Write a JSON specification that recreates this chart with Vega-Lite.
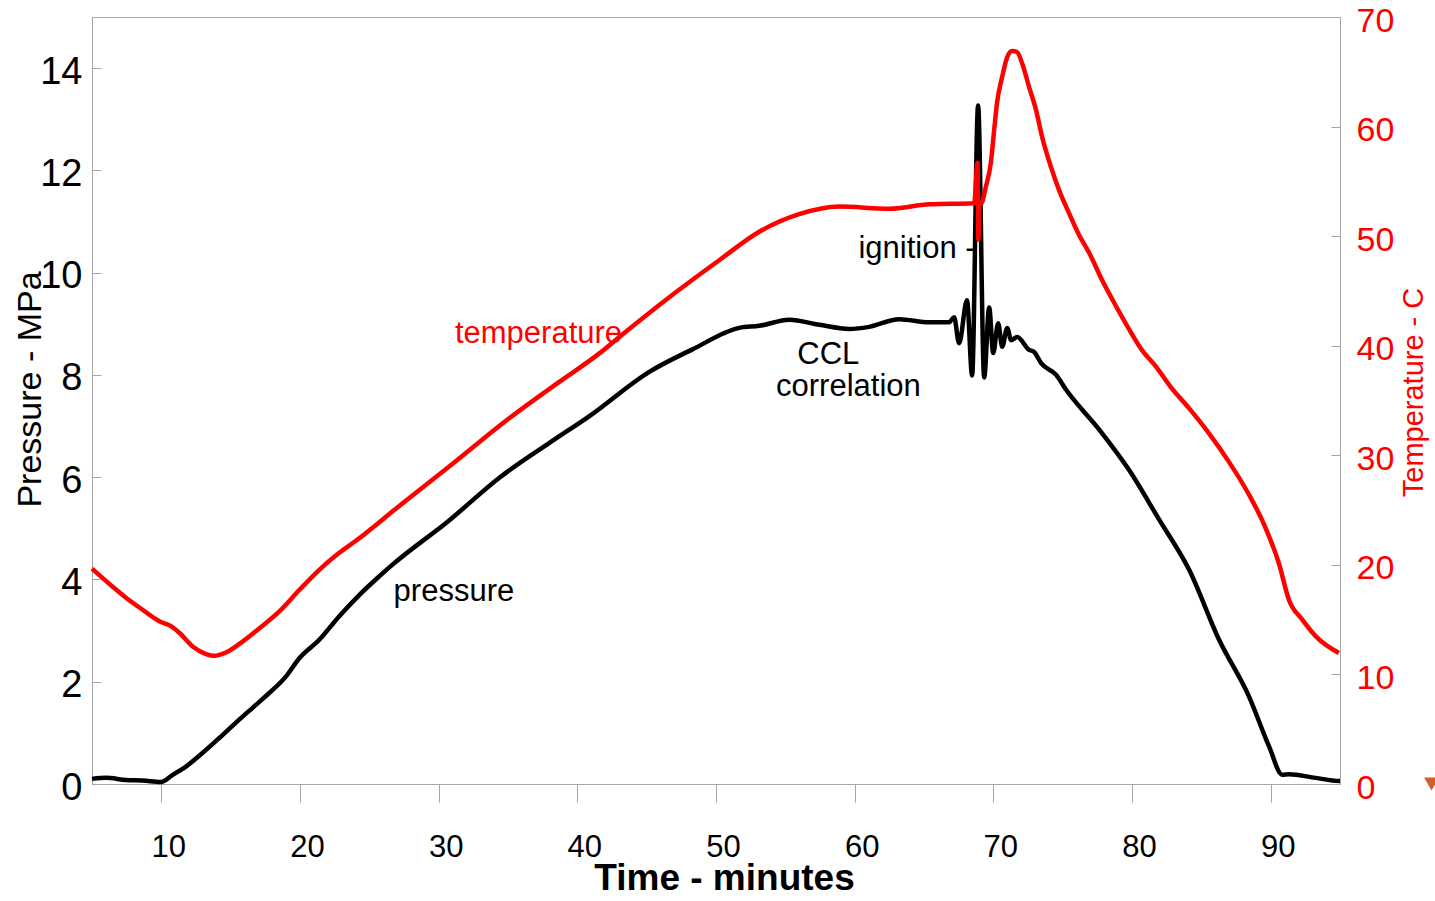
{
  "$schema": "https://vega.github.io/schema/vega-lite/v6.json",
  "width": 1248,
  "height": 767,
  "autosize": {"type": "none"},
  "padding": {"left": 92, "top": 17, "right": 95, "bottom": 117},
  "background": "white",
  "config": {
    "font": "Liberation Sans",
    "view": {"stroke": "#a6a6a6", "strokeWidth": 1},
    "axis": {
      "grid": false,
      "domainColor": "#a6a6a6",
      "tickColor": "#a6a6a6",
      "labelFont": "Liberation Sans",
      "titleFont": "Liberation Sans"
    }
  },
  "datasets": {
    "pressure": [
      {"t": 5.0, "p": 0.10}, {"t": 6.0, "p": 0.12}, {"t": 7.45, "p": 0.08}, {"t": 8.65, "p": 0.07},
      {"t": 9.97, "p": 0.04}, {"t": 10.82, "p": 0.18}, {"t": 11.77, "p": 0.34}, {"t": 12.98, "p": 0.61},
      {"t": 14.18, "p": 0.90}, {"t": 15.38, "p": 1.20}, {"t": 16.58, "p": 1.49}, {"t": 17.79, "p": 1.78},
      {"t": 18.98, "p": 2.10}, {"t": 19.95, "p": 2.46}, {"t": 21.39, "p": 2.82}, {"t": 22.83, "p": 3.28},
      {"t": 24.29, "p": 3.70}, {"t": 25.71, "p": 4.06}, {"t": 26.67, "p": 4.29}, {"t": 30.78, "p": 5.16},
      {"t": 34.38, "p": 5.99}, {"t": 37.99, "p": 6.67}, {"t": 40.9, "p": 7.2}, {"t": 45.19, "p": 8.06},
      {"t": 48.30, "p": 8.50}, {"t": 51.68, "p": 8.92}, {"t": 53.12, "p": 8.96}, {"t": 55.29, "p": 9.08},
      {"t": 57.45, "p": 8.98}, {"t": 59.61, "p": 8.90}, {"t": 61.05, "p": 8.94}, {"t": 63.21, "p": 9.09},
      {"t": 65.38, "p": 9.03}, {"t": 66.81, "p": 9.03}, {"t": 67.17, "p": 9.13}, {"t": 67.53, "p": 8.62},
      {"t": 68.10, "p": 9.46}, {"t": 68.47, "p": 7.99}, {"t": 68.90, "p": 13.27}, {"t": 69.34, "p": 7.95},
      {"t": 69.70, "p": 9.32}, {"t": 69.99, "p": 8.43}, {"t": 70.35, "p": 9.01}, {"t": 70.64, "p": 8.55},
      {"t": 71.00, "p": 8.92}, {"t": 71.28, "p": 8.68}, {"t": 71.72, "p": 8.74}, {"t": 72.58, "p": 8.49},
      {"t": 72.94, "p": 8.45}, {"t": 73.45, "p": 8.23}, {"t": 74.53, "p": 8.00}, {"t": 75.25, "p": 7.71},
      {"t": 77.64, "p": 6.93}, {"t": 79.79, "p": 6.14}, {"t": 81.96, "p": 5.17}, {"t": 84.12, "p": 4.19},
      {"t": 86.28, "p": 2.82}, {"t": 88.44, "p": 1.71}, {"t": 89.89, "p": 0.73}, {"t": 90.84, "p": 0.18},
      {"t": 91.32, "p": 0.19}, {"t": 93.24, "p": 0.12}, {"t": 94.92, "p": 0.06}, {"t": 95.0, "p": 0.06}
    ],
    "temperature": [
      {"t": 5.0, "c": 19.65}, {"t": 6.49, "c": 18.0}, {"t": 7.45, "c": 17.0}, {"t": 8.65, "c": 15.9},
      {"t": 9.86, "c": 14.85}, {"t": 10.69, "c": 14.4}, {"t": 11.30, "c": 13.8}, {"t": 12.26, "c": 12.55},
      {"t": 13.22, "c": 11.86}, {"t": 13.82, "c": 11.7}, {"t": 14.66, "c": 12.0}, {"t": 15.86, "c": 13.0},
      {"t": 17.06, "c": 14.2}, {"t": 18.51, "c": 15.75}, {"t": 19.95, "c": 17.7}, {"t": 21.39, "c": 19.55},
      {"t": 22.83, "c": 21.1}, {"t": 24.03, "c": 22.2}, {"t": 27.18, "c": 25.4}, {"t": 30.78, "c": 29.0},
      {"t": 35.11, "c": 33.4}, {"t": 38.7, "c": 36.7}, {"t": 41.59, "c": 39.3}, {"t": 43.03, "c": 40.8},
      {"t": 46.4, "c": 44.2}, {"t": 50.23, "c": 47.8}, {"t": 53.12, "c": 50.4}, {"t": 56.0, "c": 52.0},
      {"t": 58.89, "c": 52.7}, {"t": 62.49, "c": 52.5}, {"t": 65.38, "c": 52.9}, {"t": 68.62, "c": 53.0},
      {"t": 68.86, "c": 56.7}, {"t": 68.92, "c": 49.7}, {"t": 68.98, "c": 53.0}, {"t": 69.12, "c": 53.0},
      {"t": 69.46, "c": 54.5}, {"t": 69.82, "c": 56.7}, {"t": 70.06, "c": 59.7}, {"t": 70.27, "c": 62.2},
      {"t": 70.63, "c": 64.5}, {"t": 70.99, "c": 66.3}, {"t": 71.35, "c": 66.9}, {"t": 71.71, "c": 66.8},
      {"t": 72.07, "c": 65.8}, {"t": 72.58, "c": 63.6}, {"t": 73.08, "c": 61.5}, {"t": 73.51, "c": 59.1},
      {"t": 74.16, "c": 56.3}, {"t": 74.74, "c": 54.2}, {"t": 75.46, "c": 52.1}, {"t": 76.18, "c": 50.1},
      {"t": 76.90, "c": 48.5}, {"t": 77.84, "c": 46.0}, {"t": 78.85, "c": 43.6}, {"t": 79.79, "c": 41.5},
      {"t": 80.72, "c": 39.6}, {"t": 81.73, "c": 38.1}, {"t": 82.81, "c": 36.2}, {"t": 84.11, "c": 34.3},
      {"t": 85.55, "c": 32.0}, {"t": 86.99, "c": 29.4}, {"t": 88.44, "c": 26.4}, {"t": 89.52, "c": 23.7},
      {"t": 90.6, "c": 20.1}, {"t": 91.32, "c": 16.8}, {"t": 92.28, "c": 15.0}, {"t": 93.24, "c": 13.5},
      {"t": 94.92, "c": 11.95}
    ],
    "notes": [
      {"t": 37.2, "p": 8.62, "label": "temperature", "color": "#ff0000"},
      {"t": 31.1, "p": 3.58, "label": "pressure", "color": "#000000"},
      {"t": 58.1, "p": 8.22, "label": "CCL", "color": "#000000"},
      {"t": 59.55, "p": 7.59, "label": "correlation", "color": "#000000"},
      {"t": 64.5, "p": 10.29, "label": "ignition -", "color": "#000000"}
    ],
    "marker": [{"t": 101.6, "p": 0.0}]
  },
  "encoding": {
    "x": {
      "field": "t",
      "type": "quantitative",
      "scale": {"domain": [5, 95], "nice": false, "zero": false},
      "axis": {
        "title": "Time - minutes",
        "values": [10, 20, 30, 40, 50, 60, 70, 80, 90],
        "tickSize": 18,
        "labelFontSize": 31,
        "labelColor": "#000000",
        "labelPadding": 30,
        "labelOffset": 7,
        "titleFontSize": 37,
        "titleFontWeight": "bold",
        "titleColor": "#000000",
        "titleBaseline": "alphabetic",
        "titleX": 632,
        "titleY": 105
      }
    }
  },
  "layer": [
    {
      "encoding": {
        "y": {
          "field": "p",
          "type": "quantitative",
          "scale": {"domain": [0, 15], "nice": false},
          "axis": {
            "title": "Pressure - MPa",
            "values": [0, 2, 4, 6, 8, 10, 12, 14],
            "tickSize": -9,
            "labelPadding": 19,
            "labelOffset": 4,
            "labelFontSize": 38,
            "labelColor": "#000000",
            "titleFontSize": 34,
            "titleFontWeight": "normal",
            "titleColor": "#000000",
            "titleAngle": -90,
            "titleBaseline": "alphabetic",
            "titleX": -52,
            "titleY": 372
          }
        }
      },
      "layer": [
        {
          "data": {"name": "pressure"},
          "mark": {"type": "line", "color": "#000000", "strokeWidth": 4.5, "interpolate": "monotone"}
        },
        {
          "data": {"name": "notes"},
          "mark": {"type": "text", "fontSize": 31, "baseline": "alphabetic", "align": "center"},
          "encoding": {
            "text": {"field": "label"},
            "color": {"field": "color", "type": "nominal", "scale": null}
          }
        },
        {
          "data": {"name": "marker"},
          "mark": {"type": "point", "shape": "triangle-down", "filled": true, "size": 220, "color": "#d2602a", "opacity": 1}
        }
      ]
    },
    {
      "data": {"name": "temperature"},
      "mark": {"type": "line", "color": "#ff0000", "strokeWidth": 4.5, "interpolate": "monotone"},
      "encoding": {
        "y": {
          "field": "c",
          "type": "quantitative",
          "scale": {"domain": [0, 70], "nice": false},
          "axis": {
            "orient": "right",
            "title": "Temperature - C",
            "values": [0, 10, 20, 30, 40, 50, 60, 70],
            "tickSize": -9,
            "labelPadding": 25,
            "labelOffset": 4,
            "labelFontSize": 34,
            "labelColor": "#ff0000",
            "titleFontSize": 29,
            "titleFontWeight": "normal",
            "titleColor": "#ff0000",
            "titleAngle": -90,
            "titleBaseline": "alphabetic",
            "titleX": 82,
            "titleY": 375
          }
        }
      }
    }
  ],
  "resolve": {"scale": {"y": "independent"}}
}
